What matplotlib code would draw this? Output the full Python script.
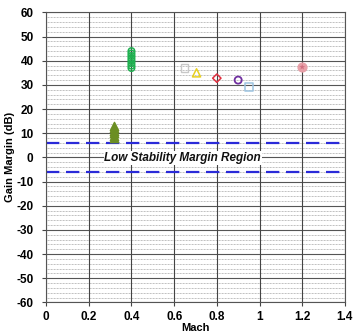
import matplotlib
matplotlib.use("Agg")
import matplotlib.pyplot as plt
import numpy as np

plt.rcParams["font.family"] = ["Liberation Sans", "DejaVu Sans"]
plt.rcParams["axes.unicode_minus"] = False

# Data
tri_green_x = [0.32, 0.32, 0.32, 0.32, 0.32, 0.32]
tri_green_y = [8, 9, 10, 11, 12, 13]
circ_green_x = [0.4] * 8
circ_green_y = [37, 38, 39, 40, 41, 42, 43, 44]
sq_gray = ([0.65], [37])
tri_yellow = ([0.705], [35])
dia_red = ([0.80], [32.8])
circ_purple = ([0.90], [32])
sq_blue = ([0.95], [29.1])
pink_point = ([1.2], [37.4])
margin_limits = [6, -6]
x_ticks = [0, 0.2, 0.4, 0.6, 0.8, 1, 1.2, 1.4]
x_ticklabels = ["0", "0.2", "0.4", "0.6", "0.8", "1", "1.2", "1.4"]
y_ticks = list(range(-60, 61, 10))

fig = plt.figure(figsize=(3.6, 3.36), dpi=100)
ax = fig.add_axes([0.128, 0.1, 0.83, 0.863])
ax.set_xlim(0, 1.4)
ax.set_ylim(-60, 60)

# grid
for y in np.arange(-60, 61, 2):
    if y % 10 == 0:
        continue
    ax.axhline(y, color="#a8a8a8", lw=0.6, ls=(0, (1, 0.8)), zorder=1)
for y in y_ticks:
    ax.axhline(y, color="#555555", lw=0.8, zorder=1)
for x in x_ticks:
    ax.axvline(x, color="#444444", lw=0.8, zorder=1)

for lim in margin_limits:
    ax.axhline(lim, color="#2a2ad8", lw=1.6, ls=(0, (6, 3)), zorder=2)

ax.text(0.64, -0.3, "Low Stability Margin Region", ha="center", va="center",
        fontsize=8.5, fontweight="bold", fontstyle="italic", color="#111111",
        bbox=dict(facecolor="white", edgecolor="none", pad=0.5), zorder=3)

ax.scatter(tri_green_x, tri_green_y, marker="^", s=36, facecolor="#6b8e23",
           edgecolor="#6b8e23", zorder=4)
ax.scatter(circ_green_x, circ_green_y, marker="o", s=22, facecolor="none",
           edgecolor="#1fb050", lw=1.1, zorder=4)
ax.scatter(*sq_gray, marker="s", s=26, facecolor="none", edgecolor="#c8c8c8", lw=1.0, zorder=4)
ax.scatter(*tri_yellow, marker="^", s=34, facecolor="none", edgecolor="#e8d020", lw=1.1, zorder=4)
ax.scatter(*dia_red, marker="D", s=18, facecolor="none", edgecolor="#e03040", lw=1.1, zorder=4)
ax.scatter(*circ_purple, marker="o", s=26, facecolor="none", edgecolor="#7030a0", lw=1.3, zorder=4)
ax.scatter(*sq_blue, marker="s", s=30, facecolor="none", edgecolor="#9cc3e0", lw=1.1, zorder=4)
ax.scatter(*pink_point, marker="o", s=40, facecolor="#e8a0a8", edgecolor="#e8a0a8", zorder=4)
ax.scatter(*pink_point, marker="*", s=20, facecolor="#d07080", edgecolor="none", zorder=5)

ax.set_xticks(x_ticks)
ax.set_xticklabels(x_ticklabels)
ax.set_yticks(y_ticks)
for lab in ax.get_xticklabels() + ax.get_yticklabels():
    lab.set_fontweight("bold")
    lab.set_fontsize(8.5)
ax.tick_params(axis="y", length=3, width=0.8, color="#444444", pad=6)
ax.tick_params(axis="x", length=3, width=0.8, color="#444444", pad=3)
for s in ax.spines.values():
    s.set_color("#555555")
    s.set_linewidth(0.8)

ax.set_xlabel("Mach", fontsize=8, fontweight="bold", labelpad=0)
ax.set_ylabel("Gain Margin (dB)", fontsize=8, fontweight="bold", labelpad=1)

fig.savefig("out.png", dpi=100)
